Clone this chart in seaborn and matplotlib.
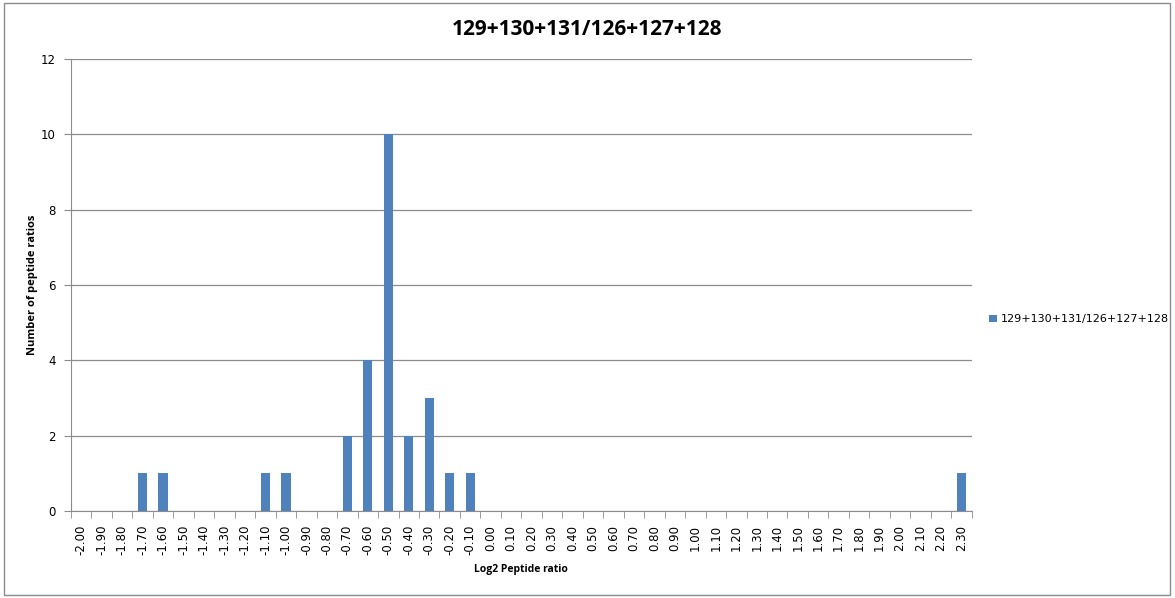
import seaborn as sns
import matplotlib.pyplot as plt
import pandas as pd
from matplotlib.patches import Rectangle

# bins of log2 ratio (-2.00 .. 2.30) and counts
bins = ["-2.00", "-1.90", "-1.80", "-1.70", "-1.60", "-1.50", "-1.40", "-1.30", "-1.20",
        "-1.10", "-1.00", "-0.90", "-0.80", "-0.70", "-0.60", "-0.50", "-0.40", "-0.30",
        "-0.20", "-0.10", "0.00", "0.10", "0.20", "0.30", "0.40", "0.50", "0.60", "0.70",
        "0.80", "0.90", "1.00", "1.10", "1.20", "1.30", "1.40", "1.50", "1.60", "1.70",
        "1.80", "1.90", "2.00", "2.10", "2.20", "2.30"]
counts = [0, 0, 0, 1, 1, 0, 0, 0, 0,
          1, 1, 0, 0, 2, 4, 10, 2, 3,
          1, 1, 0, 0, 0, 0, 0, 0, 0, 0,
          0, 0, 0, 0, 0, 0, 0, 0, 0, 0,
          0, 0, 0, 0, 0, 1]
series = "129+130+131/126+127+128"

df = pd.DataFrame({"bin": bins, "count": counts, "series": series})

sns.set_style("white")
plt.rcParams['font.family'] = ['DejaVu Sans']
plt.rcParams.update({"text.color": "black", "axes.labelcolor": "black",
                     "xtick.labelcolor": "black", "ytick.labelcolor": "black"})

fig = plt.figure(figsize=(11.75, 5.98), dpi=100)
ax = fig.add_axes([0.0604, 0.1455, 0.7666, 0.7558])

sns.barplot(data=df, x="bin", y="count", hue="series", order=bins,
            palette=["#4F81BD"], saturation=1, width=0.45, linewidth=0, ax=ax, legend=True)

ax.set_xlim(-0.5, len(bins) - 0.5)
ax.set_ylim(0, 12)
ax.set_yticks(range(0, 13, 2))
ax.yaxis.grid(True, color="#8C8C8C", linewidth=0.9)
ax.set_axisbelow(True)
for s in ["top", "right"]:
    ax.spines[s].set_visible(False)
for s in ["left", "bottom"]:
    ax.spines[s].set_color("#8C8C8C")

# tick marks at category boundaries like Excel
ax.set_xticks(range(len(bins)))
ax.set_xticklabels(bins, rotation=90, fontsize=8.5, family="DejaVu Sans")
ax.tick_params(axis="x", length=0, pad=10)
ax.set_xticks([i - 0.5 for i in range(len(bins) + 1)], minor=True)
ax.tick_params(axis="x", which="minor", length=5, color="#8C8C8C", direction="out")
ax.tick_params(axis="y", length=5, color="#8C8C8C", direction="out", labelsize=8.5, pad=6)
ax.tick_params(axis="both", bottom=True, left=True, which="both")
ax.tick_params(axis="x", which="major", bottom=False)

ax.set_xlabel("Log2 Peptide ratio", fontsize=7.5, fontweight="bold", family="Open Sans", labelpad=6)
ax.set_ylabel("Number of peptide ratios", fontsize=8, fontweight="bold", family="Open Sans")
ax.yaxis.set_label_coords(-0.037, 0.5)
fig.suptitle(series, x=0.5, y=0.968, fontsize=15, fontweight="bold", family="Open Sans")

ax.legend_.remove()
handles, labels = ax.get_legend_handles_labels()
fig.legend(handles, labels, loc="center left", bbox_to_anchor=(0.838, 0.466), frameon=False,
           fontsize=8, handlelength=0.7, handleheight=0.7, handletextpad=0.4, borderaxespad=0)

# outer chart border
fig.patches.append(Rectangle((0.003, 0.005), 0.993, 0.99, transform=fig.transFigure,
                             fill=False, edgecolor="#8C8C8C", linewidth=1))

fig.savefig("out.png", dpi=100)
